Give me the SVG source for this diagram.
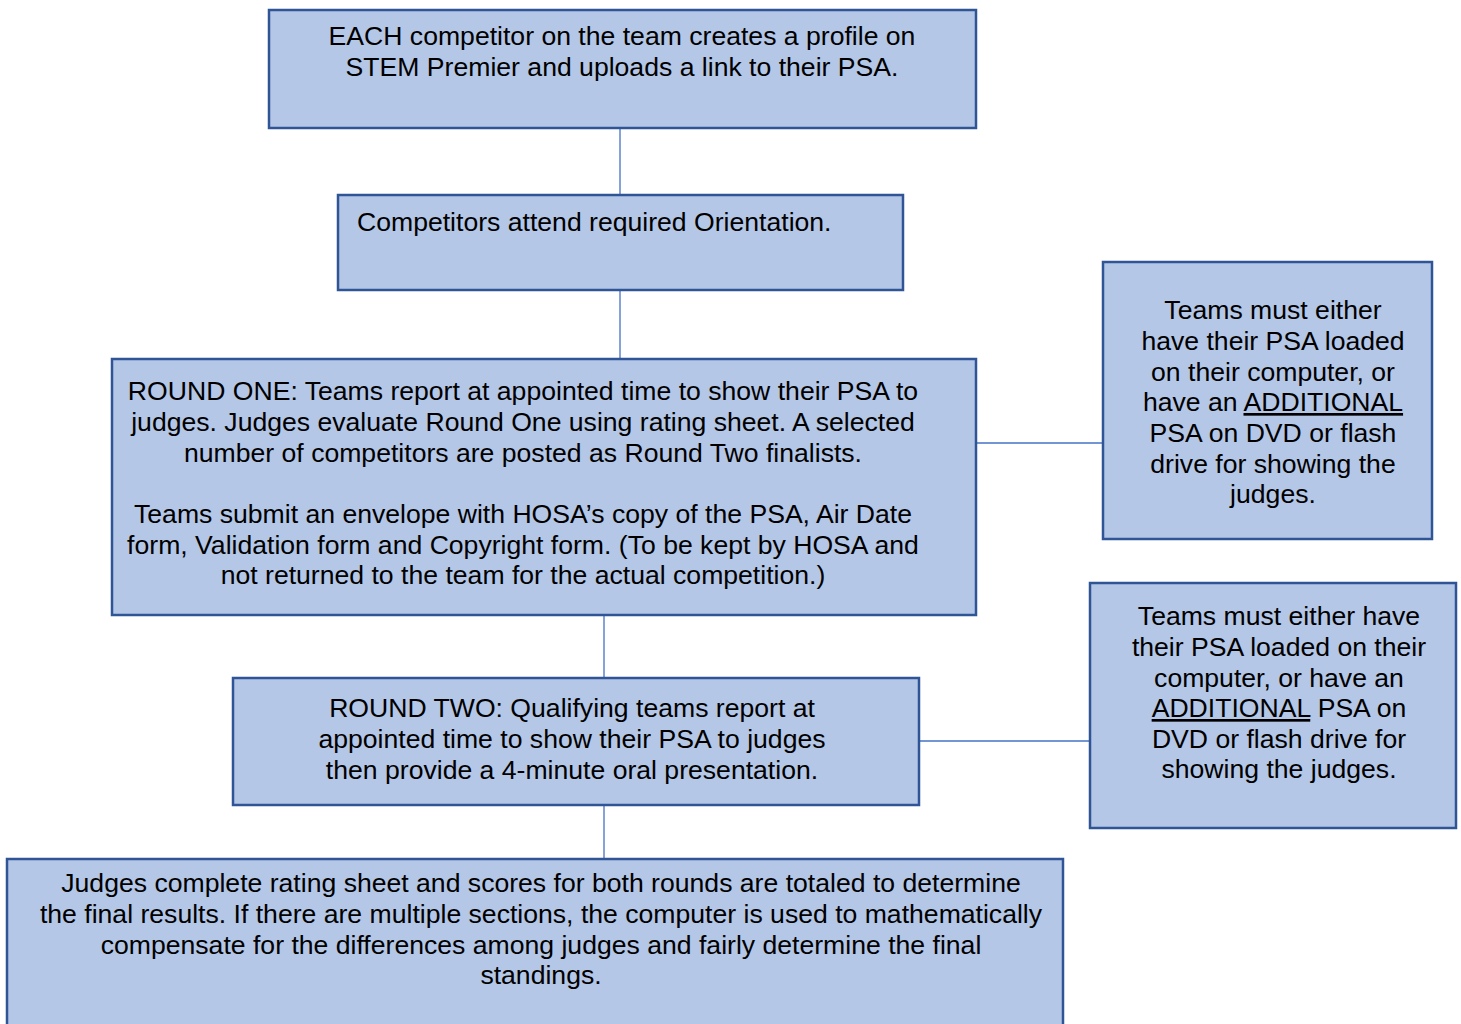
<svg xmlns="http://www.w3.org/2000/svg" width="1461" height="1024" viewBox="0 0 1461 1024">
<style>
.box{fill:#B4C7E7;stroke:#2F5597;stroke-width:2.5}
.t{font-family:"Liberation Sans",Arial,sans-serif;font-size:26.6px;fill:#000}
.c{text-anchor:middle}
.con{stroke:#4472C4;stroke-width:1.3;fill:none}
.u{text-decoration:underline}
</style>
<rect width="1461" height="1024" fill="#FFFFFF"/>
<g id="connectors">
<line class="con" x1="620" y1="128" x2="620" y2="195"/>
<line class="con" x1="620" y1="290" x2="620" y2="359"/>
<line class="con" x1="604" y1="615" x2="604" y2="678"/>
<line class="con" x1="604" y1="805" x2="604" y2="859"/>
<line class="con" x1="976" y1="443" x2="1103" y2="443"/>
<line class="con" x1="919" y1="741" x2="1090" y2="741"/>
</g>
<g id="node-profile">
<rect class="box" x="269" y="10" width="707" height="118"/>
<text class="t c" x="622" y="45">EACH competitor on the team creates a profile on</text>
<text class="t c" x="622" y="76">STEM Premier and uploads a link to their PSA.</text>
</g>
<g id="node-orientation">
<rect class="box" x="338" y="195" width="565" height="95"/>
<text class="t" x="357" y="231">Competitors attend required Orientation.</text>
</g>
<g id="node-round-one">
<rect class="box" x="112" y="359" width="864" height="256"/>
<text class="t c" x="523" y="400">ROUND ONE: Teams report at appointed time to show their PSA to</text>
<text class="t c" x="523" y="431">judges. Judges evaluate Round One using rating sheet. A selected</text>
<text class="t c" x="523" y="462">number of competitors are posted as Round Two finalists.</text>
<text class="t c" x="523" y="523">Teams submit an envelope with HOSA’s copy of the PSA, Air Date</text>
<text class="t c" x="523" y="554">form, Validation form and Copyright form. (To be kept by HOSA and</text>
<text class="t c" x="523" y="584">not returned to the team for the actual competition.)</text>
</g>
<g id="node-round-two">
<rect class="box" x="233" y="678" width="686" height="127"/>
<text class="t c" x="572" y="717">ROUND TWO: Qualifying teams report at</text>
<text class="t c" x="572" y="748">appointed time to show their PSA to judges</text>
<text class="t c" x="572" y="779">then provide a 4-minute oral presentation.</text>
</g>
<g id="node-final">
<rect class="box" x="7" y="859" width="1056" height="175"/>
<text class="t c" x="541" y="892">Judges complete rating sheet and scores for both rounds are totaled to determine</text>
<text class="t c" x="541" y="923">the final results. If there are multiple sections, the computer is used to mathematically</text>
<text class="t c" x="541" y="954">compensate for the differences among judges and fairly determine the final</text>
<text class="t c" x="541" y="984">standings.</text>
</g>
<g id="node-note-one">
<rect class="box" x="1103" y="262" width="329" height="277"/>
<text class="t c" x="1273" y="319">Teams must either</text>
<text class="t c" x="1273" y="350">have their PSA loaded</text>
<text class="t c" x="1273" y="381">on their computer, or</text>
<text class="t c" x="1273" y="411">have an <tspan class="u">ADDITIONAL</tspan></text>
<text class="t c" x="1273" y="442">PSA on DVD or flash</text>
<text class="t c" x="1273" y="473">drive for showing the</text>
<text class="t c" x="1273" y="503">judges.</text>
</g>
<g id="node-note-two">
<rect class="box" x="1090" y="583" width="366" height="245"/>
<text class="t c" x="1279" y="625">Teams must either have</text>
<text class="t c" x="1279" y="656">their PSA loaded on their</text>
<text class="t c" x="1279" y="687">computer, or have an</text>
<text class="t c" x="1279" y="717"><tspan class="u">ADDITIONAL</tspan> PSA on</text>
<text class="t c" x="1279" y="748">DVD or flash drive for</text>
<text class="t c" x="1279" y="778">showing the judges.</text>
</g>
</svg>
